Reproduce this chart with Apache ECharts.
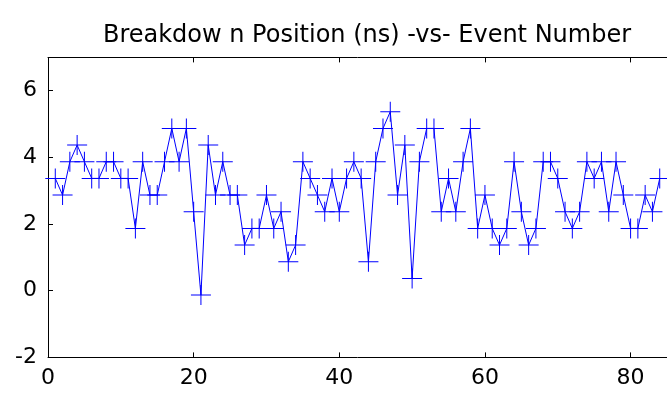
<!DOCTYPE html>
<html>
<head>
<meta charset="utf-8">
<script src="https://cdn.jsdelivr.net/npm/echarts@6/dist/echarts.min.js"></script>
<style>
html,body{margin:0;padding:0;background:#fff;}
#chart{width:667px;height:396px;}
</style>
</head>
<body>
<div id="chart"></div>
<script>
var titleText = 'Breakdow n Position (ns) -vs- Event Number';
var eventNumbers = [];
for (var i = 1; i <= 84; i++) eventNumbers.push(i);
var positions = [
  3.37, 2.87, 3.87, 4.37, 3.87, 3.37, 3.37, 3.87, 3.87, 3.37,
  3.37, 1.87, 3.87, 2.87, 2.87, 3.87, 4.87, 3.87, 4.87, 2.37,
  -0.13, 4.37, 2.87, 3.87, 2.87, 2.87, 1.37, 1.87, 1.87, 2.87,
  1.87, 2.37, 0.87, 1.37, 3.87, 3.37, 2.87, 2.37, 3.37, 2.37,
  3.37, 3.87, 3.37, 0.87, 3.87, 4.87, 5.37, 2.87, 4.37, 0.37,
  3.87, 4.87, 4.87, 2.37, 3.37, 2.37, 3.87, 4.87, 1.87, 2.87,
  1.87, 1.37, 1.87, 3.87, 2.37, 1.37, 1.87, 3.87, 3.87, 3.37,
  2.37, 1.87, 2.37, 3.87, 3.37, 3.87, 2.37, 3.87, 2.87, 1.87,
  1.87, 2.87, 2.37, 3.37
];
var xTicks = [0, 20, 40, 60, 80];
var yTicks = [-2, 0, 2, 4, 6];

var seriesData = eventNumbers.map(function (x, k) { return [x, positions[k]]; });
var font = '"DejaVu Sans", Verdana, sans-serif';

var chart = echarts.init(document.getElementById('chart'), null, {renderer: 'canvas'});
chart.setOption({
  animation: false,
  backgroundColor: '#ffffff',
  title: {
    text: titleText,
    left: 362,
    top: 19,
    textAlign: 'center',
    textStyle: {fontFamily: font, fontSize: 24, fontWeight: 'normal', color: '#000'}
  },
  grid: {left: 48, top: 57.4, width: 624, height: 300, containLabel: false},
  xAxis: [{
    type: 'value', min: 0, max: 85, interval: 20, position: 'bottom',
    axisLine: {show: true, onZero: false, lineStyle: {color: '#000', width: 1}},
    axisTick: {show: true, inside: true, length: 5, lineStyle: {color: '#000'}},
    axisLabel: {show: true, margin: 10, color: '#000', fontFamily: font, fontSize: 22, showMaxLabel: false,
      formatter: function (v) { return xTicks.indexOf(v) >= 0 ? String(v) : ''; }},
    splitLine: {show: false}
  }, {
    type: 'value', min: 0, max: 85, interval: 20, position: 'top',
    axisLine: {show: true, onZero: false, lineStyle: {color: '#000', width: 1}},
    axisTick: {show: true, inside: true, length: 5, lineStyle: {color: '#000'}},
    axisLabel: {show: false},
    splitLine: {show: false}
  }],
  yAxis: [{
    type: 'value', min: -2, max: 7, interval: 2,
    axisLine: {show: true, onZero: false, lineStyle: {color: '#000', width: 1}},
    axisTick: {show: true, inside: true, length: 5, lineStyle: {color: '#000'}},
    axisLabel: {show: true, margin: 11, color: '#000', fontFamily: font, fontSize: 22, showMaxLabel: false,
      formatter: function (v) { return yTicks.indexOf(v) >= 0 ? String(v) : ''; }},
    splitLine: {show: false}
  }],
  series: [{
    type: 'line',
    xAxisIndex: 0,
    data: seriesData,
    symbol: 'path://M0,9.5H20V10.5H0Z M9.5,0H10.5V20H9.5Z',
    symbolSize: 20,
    showAllSymbol: true,
    itemStyle: {color: '#0000ff', borderWidth: 0},
    lineStyle: {color: '#0000ff', width: 1},
    clip: true
  }]
});
</script>
</body>
</html>
